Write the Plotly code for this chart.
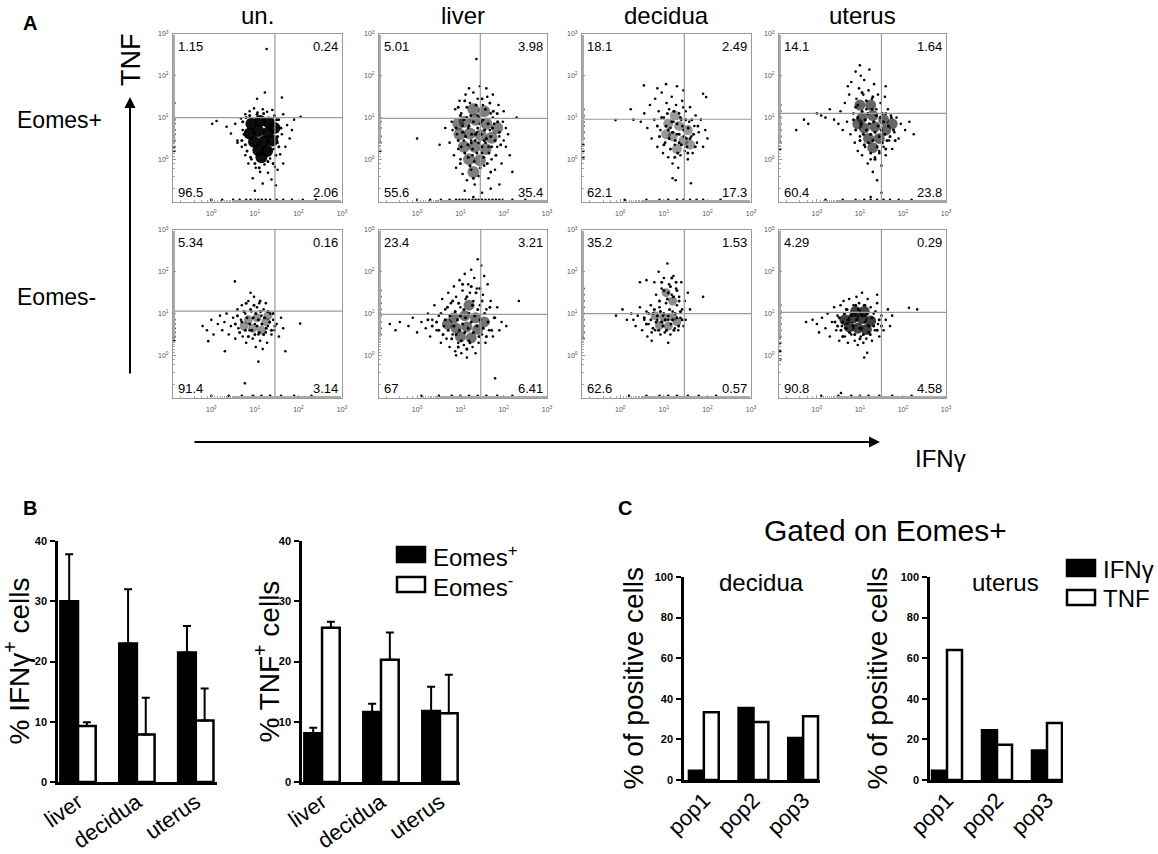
import plotly.graph_objects as go

W, H = 1158, 854
FONT = "Liberation Sans, Arial, Helvetica, sans-serif"

# ---------------- panel A: flow plots (log10 units) ----------------
COLUMNS = ["un.", "liver", "decidua", "uterus"]
ROWS = ["Eomes+", "Eomes-"]

# quadrant percentages: upper-left, upper-right, lower-left, lower-right
QUAD_PCT_POS = [[1.15, 0.24, 96.5, 2.06], [5.01, 3.98, 55.6, 35.4],
                [18.1, 2.49, 62.1, 17.3], [14.1, 1.64, 60.4, 23.8]]
QUAD_PCT_NEG = [[5.34, 0.16, 91.4, 3.14], [23.4, 3.21, 67, 6.41],
                [35.2, 1.53, 62.6, 0.57], [4.29, 0.29, 90.8, 4.58]]

# gate positions (log10 IFNg, log10 TNF)
GATE_X_POS = [1.46, 1.46, 1.47, 1.50]
GATE_Y_POS = [1.00, 0.98, 0.96, 1.10]
GATE_X_NEG = [1.46, 1.47, 1.47, 1.50]
GATE_Y_NEG = [1.06, 0.98, 1.00, 1.03]

# dense centre of each cloud (drawn as soft blobs)
UN_POS_CORE = [(0.92, 0.85), (1.12, 0.92), (1.32, 0.88), (0.88, 0.62), (1.08, 0.68), (1.3, 0.64),
               (1.45, 0.75), (0.98, 0.42), (1.2, 0.42), (1.4, 0.45), (1.08, 0.22), (1.28, 0.2), (1.15, 0.05)]
UN_POS_DENSE = [(0.72, 0.9), (0.75, 0.6), (0.78, 0.35), (0.8, 1.0), (0.82, 0.2), (1.5, 0.95), (1.52, 0.55),
                (1.55, 0.3), (1.48, 0.1), (0.9, 0.05), (1.0, -0.1), (1.3, -0.05), (1.2, 1.1), (1.45, 1.05),
                (0.88, 1.05), (1.05, 1.08), (1.42, -0.1), (1.1, -0.2), (0.7, 0.45), (1.6, 0.75)]
UN_POS_DOTS = [(-0.85, 1.35), (-0.85, 0.95), (-0.85, 0.85), (-0.85, 0.7), (-0.85, 0.6), (-0.85, 0.45),
               (-0.85, 0.3), (-0.85, 0.2), (0.02, 0.85), (0.12, 0.92), (0.35, 0.78), (0.45, 0.62),
               (0.55, 0.85), (0.6, 0.45), (0.68, 0.98), (0.7, 0.3), (0.72, 0.7), (0.78, 1.08), (0.78, 0.1),
               (0.8, 0.55), (0.85, -0.1), (0.88, 1.15), (0.92, 0.0), (0.98, 1.22), (1.02, -0.2), (1.06, 1.12),
               (1.12, -0.3), (1.18, 1.2), (1.22, -0.12), (1.28, 1.14), (1.3, -0.32), (1.35, 0.02), (1.4, 1.18),
               (1.43, 0.25), (1.46, -0.18), (1.5, 0.75), (1.52, 0.4), (1.55, 0.95), (1.58, 0.12), (1.62, 0.6),
               (1.65, 1.08), (1.7, 0.3), (1.74, 0.82), (1.8, 0.5), (1.9, 0.95), (2.05, 1.02), (1.05, 1.45),
               (1.23, 1.6), (1.62, 1.48), (1.27, 2.64), (0.95, -0.45), (1.18, -0.58), (1.38, -0.48),
               (1.48, -0.62), (1.52, -0.25), (1.0, -0.75), (1.65, -0.1), (0.6, 0.4), (1.85, 0.7),
               (0.0, -0.97), (0.25, -0.97), (0.5, -0.97), (0.65, -0.97), (0.8, -0.97), (0.9, -0.97),
               (1.0, -0.97), (1.08, -0.97), (1.16, -0.97), (1.25, -0.97), (1.35, -0.97), (1.5, -0.97),
               (1.65, -0.97), (1.85, -0.97), (2.1, -0.97), (2.4, -0.97)]

LIVER_POS_CORE = [(1.1, 0.9), (1.35, 0.95), (1.6, 0.85), (0.98, 0.6), (1.22, 0.62), (1.47, 0.58),
                  (1.72, 0.52), (1.08, 0.3), (1.33, 0.3), (1.58, 0.25), (1.2, 0.0), (1.45, -0.02),
                  (1.3, 1.2), (1.55, 1.15), (0.95, 0.85), (1.85, 0.75), (1.3, -0.3)]
LIVER_POS_DENSE = [(0.9, 0.75), (0.95, 0.45), (1.0, 1.05), (1.02, 0.3), (1.05, 0.65), (1.08, 0.95), (1.1, 0.15),
                   (1.12, 0.55), (1.15, 1.25), (1.17, 0.35), (1.2, 0.8), (1.22, -0.15), (1.24, 1.05), (1.26, 0.6),
                   (1.28, 0.25), (1.3, 0.9), (1.32, -0.05), (1.34, 0.45), (1.36, 1.3), (1.38, 0.15), (1.4, 0.75),
                   (1.42, 0.4), (1.44, 1.0), (1.46, -0.2), (1.48, 0.6), (1.5, 0.3), (1.52, 0.95), (1.54, 0.05),
                   (1.56, 0.7), (1.58, 1.2), (1.6, 0.5), (1.62, -0.1), (1.64, 0.85), (1.66, 0.15), (1.68, 1.35),
                   (1.7, 0.55), (1.72, 0.3), (1.74, 0.75), (1.76, 1.15), (1.8, 0.45), (1.82, 0.1), (1.86, 0.9),
                   (1.9, 0.65), (1.93, 0.35), (1.18, 0.05), (1.35, 0.6), (1.45, 0.85), (1.25, 0.4), (1.55, 0.45),
                   (1.1, 1.4), (1.3, -0.45), (1.5, 1.45), (1.0, -0.1), (1.7, -0.3), (0.95, 1.25), (1.85, 1.1)]
LIVER_POS_DOTS = [(0.75, 0.4), (0.8, 0.9), (0.85, 0.1), (0.88, 1.2), (0.9, -0.2), (0.92, 0.6), (0.98, 1.4),
                  (1.0, 0.0), (1.02, 1.1), (1.05, -0.35), (1.08, 0.45), (1.12, 1.55), (1.15, -0.5),
                  (1.18, 0.75), (1.22, 1.35), (1.25, -0.25), (1.28, 0.1), (1.3, 1.6), (1.33, -0.6),
                  (1.38, 0.65), (1.4, 1.45), (1.42, -0.4), (1.48, 0.9), (1.52, 1.3), (1.55, -0.15),
                  (1.58, 0.4), (1.62, 1.5), (1.65, -0.45), (1.68, 0.7), (1.7, 1.1), (1.72, 0.0), (1.78, 0.85),
                  (1.8, -0.25), (1.85, 0.3), (1.88, 1.3), (1.9, 0.55), (1.95, -0.1), (1.98, 0.9), (2.05, 0.3),
                  (2.1, 0.6), (2.14, 0.1), (2.0, 1.15), (1.75, 1.55), (1.45, 1.75), (1.6, 1.7), (1.2, 1.7),
                  (1.37, 2.4), (0.52, 0.35), (0.0, 0.5), (2.3, 1.0), (1.5, -0.8), (1.3, -0.9), (1.7, -0.7),
                  (1.1, -0.75), (1.9, -0.6), (2.2, -0.3), (0.82, 0.7), (0.95, 0.25), (1.15, 1.0), (1.65, 0.3),
                  (1.75, 1.0), (2.0, 0.45), (1.05, 0.8), (1.5, 0.15), (1.4, 1.05), (1.25, 0.45), (2.05, 0.75),
                  (0.65, 0.75), (-0.85, 0.9), (-0.85, 0.75), (-0.85, 0.55), (-0.85, 0.4), (-0.85, 0.2),
                  (0.0, -0.97), (0.3, -0.97), (0.55, -0.97), (0.75, -0.97), (0.9, -0.97), (0.98, -0.97),
                  (1.05, -0.97), (1.12, -0.97), (1.2, -0.97), (1.28, -0.97), (1.35, -0.97), (1.42, -0.97),
                  (1.5, -0.97), (1.58, -0.97), (1.66, -0.97), (1.74, -0.97), (1.82, -0.97), (1.9, -0.97),
                  (1.98, -0.97), (2.2, -0.97), (2.5, -0.97)]

DECIDUA_POS_CORE = [(1.1, 0.85), (1.35, 0.8), (1.55, 0.7), (1.2, 0.55), (1.45, 0.45), (1.3, 0.25),
                    (1.05, 0.6), (1.6, 0.35), (1.25, 1.05)]
DECIDUA_POS_DENSE = [(0.85, 0.8), (0.9, 0.55), (0.95, 1.0), (1.0, 0.35), (1.05, 0.8), (1.08, 1.1), (1.12, 0.5),
                     (1.15, 0.25), (1.18, 0.9), (1.2, 0.65), (1.23, 1.15), (1.26, 0.45), (1.3, 0.85), (1.32, 0.15),
                     (1.35, 0.6), (1.38, 1.0), (1.4, 0.35), (1.43, 0.8), (1.46, 0.55), (1.5, 0.95), (1.53, 0.3),
                     (1.56, 0.75), (1.6, 0.5), (1.64, 0.95), (1.68, 0.6), (1.72, 0.3), (1.78, 0.8), (1.25, 0.05),
                     (1.45, 1.25), (1.1, 0.7), (1.55, 0.15), (1.35, 0.4)]
DECIDUA_POS_DOTS = [(0.47, 0.9), (0.55, 1.1), (0.62, 0.75), (0.68, 1.3), (0.72, 0.5), (0.78, 0.95),
                    (0.8, 1.45), (0.85, 0.3), (0.88, 1.15), (0.92, 0.7), (0.95, 1.6), (0.98, 0.15), (1.0, 1.0),
                    (1.03, 0.4), (1.06, 1.35), (1.1, 0.05), (1.12, 1.2), (1.15, 0.75), (1.18, 1.5), (1.2, -0.1),
                    (1.22, 0.9), (1.25, 0.35), (1.28, 1.3), (1.3, 0.6), (1.33, -0.2), (1.35, 1.1), (1.38, 0.1),
                    (1.4, 0.95), (1.42, 1.4), (1.45, 0.7), (1.48, 0.2), (1.5, 1.15), (1.52, 0.5), (1.55, 0.0),
                    (1.58, 0.9), (1.6, 1.25), (1.63, 0.55), (1.66, 0.15), (1.7, 0.8), (1.73, 1.05), (1.76, 0.4),
                    (1.8, 0.65), (1.85, 0.95), (1.9, 0.3), (1.95, 0.7), (2.0, 0.5), (0.54, 1.77), (0.24, 1.2),
                    (-0.11, 0.94), (1.9, 1.57), (1.97, 1.49), (1.2, -0.45), (1.27, -0.5), (1.62, -0.57),
                    (0.3, 0.95), (0.85, 1.7), (1.05, 1.8), (1.45, 1.65), (1.3, 1.75),
                    (-0.85, 1.2), (-0.85, 1.05), (-0.85, 0.9), (-0.85, 0.8), (-0.85, 0.65), (-0.85, 0.5),
                    (-0.85, 0.35), (-0.85, 0.2), (-0.85, 0.05), (0.1, -0.97), (0.6, -0.97), (0.9, -0.97),
                    (1.1, -0.97), (1.3, -0.97), (1.45, -0.97), (1.6, -0.97), (1.75, -0.97), (1.9, -0.97),
                    (2.3, -0.97)]

UTERUS_POS_CORE = [(1.05, 1.0), (1.3, 1.05), (1.55, 0.95), (1.1, 0.75), (1.35, 0.78), (1.6, 0.7),
                   (1.2, 0.5), (1.45, 0.5), (1.3, 0.28), (0.95, 0.85), (1.75, 0.85), (1.0, 1.3), (1.25, 1.3)]
UTERUS_POS_DENSE = [(0.9, 0.7), (0.95, 1.0), (1.0, 0.45), (1.02, 0.85), (1.05, 1.15), (1.08, 0.6), (1.1, 0.35),
                    (1.12, 0.95), (1.15, 0.7), (1.18, 1.1), (1.2, 0.4), (1.22, 0.85), (1.25, 0.6), (1.28, 1.2),
                    (1.3, 0.45), (1.32, 0.9), (1.35, 0.65), (1.38, 1.05), (1.4, 0.3), (1.42, 0.8), (1.45, 0.55),
                    (1.48, 1.0), (1.5, 0.7), (1.52, 0.4), (1.55, 0.9), (1.58, 0.6), (1.6, 1.1), (1.63, 0.45),
                    (1.66, 0.8), (1.7, 0.55), (1.73, 1.0), (1.78, 0.7), (1.82, 0.45), (1.15, 1.4), (1.05, 1.6),
                    (1.3, 1.5), (0.95, 1.3), (1.25, 0.15), (1.45, 0.15), (1.6, 0.25), (1.35, 0.0), (0.85, 0.95)]
UTERUS_POS_DOTS = [(-0.48, 0.7), (-0.3, 0.95), (-0.2, 0.85), (0.0, 1.1), (0.1, 1.05), (0.2, 1.0), (0.3, 1.2),
                   (0.4, 0.95), (0.5, 0.85), (0.55, 1.15), (0.6, 0.7), (0.65, 1.35), (0.7, 0.9), (0.75, 1.55),
                   (0.78, 0.6), (0.8, 1.85), (0.85, 1.1), (0.88, 0.4), (0.9, 2.1), (0.92, 1.45), (0.95, 0.2),
                   (0.98, 1.7), (1.0, 0.55), (1.02, 2.0), (1.05, 0.1), (1.08, 1.55), (1.1, 1.9), (1.12, 0.3),
                   (1.15, 1.2), (1.18, -0.1), (1.2, 1.65), (1.22, 2.15), (1.25, 0.0), (1.28, 1.45), (1.3, -0.3),
                   (1.33, 1.8), (1.35, 0.05), (1.38, 1.2), (1.4, -0.5), (1.42, 1.55), (1.45, 0.2), (1.48, 1.35),
                   (1.5, -0.15), (1.52, 1.1), (1.55, 0.3), (1.58, 1.5), (1.6, 0.1), (1.65, 1.2), (1.68, 0.45),
                   (1.72, 1.05), (1.75, 0.25), (1.8, 0.65), (1.85, 1.0), (1.9, 0.5), (1.95, 0.85), (2.05, 0.7),
                   (2.15, 0.9), (2.25, 0.6), (1.25, -0.9), (1.5, -0.8), (0.72, 1.75), (1.0, 2.25), (0.9, 1.25),
                   (1.6, 1.75), (-0.85, 1.3), (-0.85, 1.15), (-0.85, 1.0), (-0.85, 0.85), (-0.85, 0.7),
                   (-0.85, 0.55), (-0.85, 0.4), (-0.85, 0.25), (0.2, -0.97), (0.6, -0.97), (0.9, -0.97),
                   (1.1, -0.97), (1.25, -0.97), (1.4, -0.97), (1.55, -0.97), (1.7, -0.97), (1.9, -0.97),
                   (2.2, -0.97)]

UN_NEG_CORE = [(0.85, 0.85), (1.05, 0.9), (1.25, 0.8), (0.95, 0.65), (1.15, 0.6), (1.3, 0.95), (0.75, 0.7)]
UN_NEG_DENSE = [(0.55, 0.75), (0.6, 0.95), (0.65, 0.55), (0.7, 0.8), (0.75, 1.05), (0.78, 0.6), (0.82, 0.9),
                (0.85, 0.45), (0.88, 0.75), (0.9, 1.1), (0.93, 0.6), (0.96, 0.9), (1.0, 0.5), (1.02, 1.0),
                (1.05, 0.7), (1.08, 0.85), (1.1, 0.55), (1.13, 1.05), (1.16, 0.75), (1.2, 0.5), (1.22, 0.9),
                (1.26, 0.65), (1.3, 1.05), (1.34, 0.8), (1.38, 0.6), (1.42, 1.0), (1.46, 0.7), (0.98, 1.2),
                (1.12, 1.3), (0.8, 1.25)]
UN_NEG_DOTS = [(-0.2, 0.7), (-0.1, 0.6), (0.0, 0.85), (0.05, 0.5), (0.15, 0.75), (0.2, 0.95), (0.25, 0.6),
               (0.3, 0.8), (0.35, 1.0), (0.4, 0.5), (0.45, 0.7), (0.5, 0.9), (0.55, 0.4), (0.6, 1.1),
               (0.62, 0.65), (0.68, 0.85), (0.7, 1.2), (0.72, 0.45), (0.78, 1.0), (0.8, 0.3), (0.85, 1.3),
               (0.88, 0.6), (0.92, 1.05), (0.95, 0.4), (0.98, 1.4), (1.0, 0.75), (1.02, 0.2), (1.05, 1.15),
               (1.08, 0.5), (1.1, 1.25), (1.12, 0.35), (1.15, 0.95), (1.18, 0.15), (1.2, 1.1), (1.25, 0.55),
               (1.28, 0.3), (1.3, 0.7), (1.35, 1.0), (1.38, 0.5), (1.42, 0.85), (1.45, 0.6), (1.5, 0.75),
               (1.55, 0.45), (1.6, 0.9), (1.65, 0.65), (1.7, 0.1), (2.04, 0.76), (0.54, 1.77), (-0.07, 0.34),
               (0.31, 0.1), (1.08, -0.15), (0.77, -0.67), (1.25, 1.25), (0.9, 1.5),
               (-0.85, 0.85), (-0.85, 0.75), (-0.85, 0.65), (-0.85, 0.55), (-0.85, 0.45), (-0.85, 0.35),
               (0.0, -0.97), (0.4, -0.97), (0.7, -0.97), (0.95, -0.97), (1.15, -0.97), (1.35, -0.97),
               (1.6, -0.97), (1.9, -0.97), (2.3, -0.97)]

LIVER_NEG_CORE = [(0.85, 0.9), (1.1, 0.95), (1.35, 0.9), (0.9, 0.65), (1.15, 0.68), (1.4, 0.62),
                  (1.0, 0.45), (1.25, 0.42), (0.7, 0.75), (1.55, 0.8), (1.2, 1.2)]
LIVER_NEG_DENSE = [(0.45, 0.8), (0.5, 0.6), (0.55, 1.0), (0.6, 0.5), (0.65, 0.85), (0.7, 1.15), (0.72, 0.6),
                   (0.76, 0.95), (0.8, 0.4), (0.82, 1.3), (0.85, 0.7), (0.88, 1.05), (0.9, 0.5), (0.93, 0.85),
                   (0.96, 1.25), (0.98, 0.6), (1.0, 0.95), (1.02, 0.35), (1.05, 0.75), (1.08, 1.1), (1.1, 0.55),
                   (1.12, 0.9), (1.15, 1.4), (1.18, 0.65), (1.2, 1.0), (1.22, 0.3), (1.25, 0.8), (1.28, 1.2),
                   (1.3, 0.55), (1.33, 0.95), (1.36, 1.5), (1.38, 0.7), (1.4, 1.1), (1.43, 0.45), (1.46, 0.85),
                   (1.5, 1.3), (1.53, 0.65), (1.56, 1.0), (1.6, 0.45), (1.64, 0.8), (1.68, 1.15), (1.72, 0.6),
                   (1.78, 0.9), (1.05, 1.7), (1.25, 1.65), (1.45, 1.6), (0.95, 0.2), (1.15, 0.15), (0.35, 0.7),
                   (0.25, 0.85)]
LIVER_NEG_DOTS = [(-0.63, 0.75), (-0.5, 0.6), (-0.4, 0.8), (-0.2, 0.7), (-0.1, 0.9), (0.0, 0.55), (0.1, 0.8),
                  (0.2, 0.65), (0.25, 1.0), (0.3, 0.45), (0.35, 0.85), (0.4, 1.2), (0.45, 0.6), (0.5, 0.95),
                  (0.55, 0.3), (0.58, 1.35), (0.62, 0.7), (0.65, 1.1), (0.68, 0.4), (0.72, 1.5), (0.75, 0.2),
                  (0.78, 1.25), (0.82, 0.5), (0.85, 1.65), (0.88, 0.1), (0.9, 1.4), (0.95, 0.3), (0.98, 1.8),
                  (1.0, 1.15), (1.02, 0.05), (1.05, 1.55), (1.08, 0.25), (1.1, 1.95), (1.12, 1.35), (1.15, 0.15),
                  (1.18, 1.7), (1.2, 0.35), (1.22, 1.5), (1.25, 2.05), (1.28, 0.2), (1.3, 1.3), (1.32, 1.85),
                  (1.35, 0.05), (1.38, 1.6), (1.4, 2.3), (1.42, 0.3), (1.45, 1.2), (1.48, 2.15), (1.5, 0.5),
                  (1.52, 1.45), (1.55, 1.9), (1.58, 0.3), (1.6, 1.1), (1.63, 1.7), (1.66, 0.6), (1.7, 1.3),
                  (1.75, 0.45), (1.8, 0.9), (1.85, 1.15), (1.9, 0.6), (1.95, 0.8), (2.06, 0.7), (2.35, 1.3),
                  (1.8, -0.55), (1.15, -0.05), (0.9, 0.0), (-0.85, 1.55), (-0.85, 1.4), (-0.85, 1.25),
                  (-0.85, 1.1), (-0.85, 0.95), (-0.85, 0.8), (-0.85, 0.65), (-0.85, 0.5),
                  (0.1, -0.97), (0.5, -0.97), (0.8, -0.97), (1.0, -0.97), (1.2, -0.97), (1.4, -0.97),
                  (1.6, -0.97), (1.85, -0.97), (2.2, -0.97)]

DECIDUA_NEG_CORE = [(0.8, 0.95), (1.0, 0.9), (1.2, 0.92), (0.9, 0.72), (1.1, 0.7), (1.3, 0.8),
                    (1.05, 1.5), (1.2, 1.3)]
DECIDUA_NEG_DENSE = [(0.55, 0.9), (0.6, 0.75), (0.65, 1.0), (0.7, 0.85), (0.75, 0.65), (0.78, 1.1), (0.82, 0.8),
                     (0.85, 0.95), (0.88, 0.6), (0.92, 1.05), (0.95, 0.8), (0.98, 0.7), (1.0, 1.0), (1.03, 0.85),
                     (1.06, 0.6), (1.1, 0.95), (1.13, 1.1), (1.16, 0.75), (1.2, 0.85), (1.23, 0.6), (1.26, 1.0),
                     (1.3, 0.9), (1.34, 0.7), (1.38, 1.05), (1.42, 0.85), (0.9, 1.3), (1.0, 1.55), (1.08, 1.35),
                     (1.15, 1.65), (1.22, 1.4), (1.3, 1.55), (1.35, 1.3), (0.95, 1.75), (1.18, 1.85), (1.1, 1.5),
                     (1.28, 1.75)]
DECIDUA_NEG_DOTS = [(-0.1, 0.95), (0.05, 1.1), (0.15, 0.85), (0.25, 1.0), (0.35, 0.7), (0.4, 0.95),
                    (0.45, 1.15), (0.5, 0.6), (0.55, 0.85), (0.6, 1.05), (0.62, 0.45), (0.65, 0.75), (0.7, 1.2),
                    (0.72, 0.55), (0.75, 1.0), (0.78, 1.75), (0.8, 0.6), (0.82, 1.45), (0.85, 0.85), (0.88, 2.0),
                    (0.9, 1.15), (0.92, 0.5), (0.95, 1.6), (0.98, 0.95), (1.0, 1.85), (1.02, 0.55), (1.05, 1.25),
                    (1.08, 2.2), (1.1, 0.85), (1.12, 1.7), (1.15, 0.5), (1.18, 1.45), (1.2, 1.05), (1.22, 1.9),
                    (1.25, 0.65), (1.28, 1.6), (1.3, 1.2), (1.33, 0.6), (1.35, 1.4), (1.38, 0.9), (1.4, 1.75),
                    (1.42, 1.1), (1.45, 0.7), (1.48, 1.3), (1.5, 0.85), (1.55, 1.5), (1.6, 1.1), (1.9, 1.4),
                    (0.45, 1.75), (0.6, 1.8), (0.72, 0.35), (1.1, 0.3), (0.3, 0.85),
                    (-0.85, 1.6), (-0.85, 1.45), (-0.85, 1.3), (-0.85, 1.15), (-0.85, 1.0), (-0.85, 0.85),
                    (-0.85, 0.7), (-0.85, 0.55), (-0.85, 0.4), (0.2, -0.97), (0.6, -0.97), (0.9, -0.97),
                    (1.1, -0.97), (1.3, -0.97), (1.55, -0.97), (1.8, -0.97), (2.2, -0.97)]

UTERUS_NEG_CORE = [(0.65, 0.85), (0.85, 0.9), (1.05, 0.88), (1.25, 0.82), (0.75, 0.68), (0.95, 0.65),
                   (1.15, 0.62), (0.9, 1.05), (1.1, 1.05)]
UTERUS_NEG_DENSE = [(0.42, 0.8), (0.48, 0.7), (0.52, 0.9), (0.56, 0.6), (0.6, 0.8), (0.64, 1.0), (0.68, 0.65),
                    (0.72, 0.85), (0.76, 0.55), (0.8, 0.95), (0.84, 0.7), (0.88, 0.5), (0.92, 0.85), (0.96, 1.1),
                    (1.0, 0.65), (1.04, 0.95), (1.08, 0.5), (1.12, 0.8), (1.16, 1.0), (1.2, 0.7), (1.24, 0.5),
                    (1.28, 0.9), (1.32, 0.7), (1.36, 1.05), (1.4, 0.6), (1.45, 0.85), (1.5, 0.7), (0.7, 1.1),
                    (0.9, 1.2), (1.1, 1.2), (0.6, 0.45), (1.0, 0.4)]
UTERUS_NEG_DOTS = [(-0.25, 0.8), (-0.1, 0.85), (0.0, 0.75), (0.05, 0.55), (0.12, 0.9), (0.2, 0.65),
                   (0.25, 1.0), (0.3, 0.45), (0.35, 0.8), (0.4, 1.15), (0.45, 0.6), (0.48, 0.95), (0.52, 0.35),
                   (0.55, 1.2), (0.58, 0.7), (0.62, 1.3), (0.65, 0.45), (0.68, 1.1), (0.72, 0.3), (0.75, 1.35),
                   (0.8, 0.5), (0.85, 1.2), (0.88, 0.35), (0.92, 1.4), (0.95, 0.25), (0.98, 1.25), (1.02, 0.45),
                   (1.05, 1.5), (1.08, 0.3), (1.12, 1.2), (1.15, 0.4), (1.18, 1.35), (1.2, 0.55), (1.25, 1.15),
                   (1.28, 0.35), (1.32, 1.0), (1.35, 0.6), (1.4, 1.25), (1.42, 0.75), (1.45, 0.45), (1.5, 0.95),
                   (1.55, 0.6), (1.6, 0.85), (1.65, 1.1), (1.7, 0.7), (1.75, 0.95), (2.14, 1.14), (2.33, 1.1),
                   (1.17, 0.06), (1.1, -0.05), (0.56, -0.9), (1.4, 1.45),
                   (-0.85, 1.2), (-0.85, 1.05), (-0.85, 0.9), (-0.85, 0.75), (-0.85, 0.6), (-0.85, 0.45),
                   (-0.85, 0.3), (-0.85, 0.1), (-0.85, -0.1), (0.1, -0.97), (0.5, -0.97), (0.8, -0.97),
                   (1.0, -0.97), (1.2, -0.97), (1.45, -0.97), (1.75, -0.97), (2.2, -0.97)]

CORES = [[UN_POS_CORE, LIVER_POS_CORE, DECIDUA_POS_CORE, UTERUS_POS_CORE],
         [UN_NEG_CORE, LIVER_NEG_CORE, DECIDUA_NEG_CORE, UTERUS_NEG_CORE]]
DENSE = [[UN_POS_DENSE, LIVER_POS_DENSE, DECIDUA_POS_DENSE, UTERUS_POS_DENSE],
         [UN_NEG_DENSE, LIVER_NEG_DENSE, DECIDUA_NEG_DENSE, UTERUS_NEG_DENSE]]
DOTS = [[UN_POS_DOTS, LIVER_POS_DOTS, DECIDUA_POS_DOTS, UTERUS_POS_DOTS],
        [UN_NEG_DOTS, LIVER_NEG_DOTS, DECIDUA_NEG_DOTS, UTERUS_NEG_DOTS]]
QUAD_PCT = [QUAD_PCT_POS, QUAD_PCT_NEG]
GATE_X = [GATE_X_POS, GATE_X_NEG]
GATE_Y = [GATE_Y_POS, GATE_Y_NEG]

# ---------------- panel B ----------------
B_SITES = ["liver", "decidua", "uterus"]
IFNG_EOMES_POS = [30.0, 23.0, 21.5]
IFNG_EOMES_POS_ERR = [7.8, 9.0, 4.4]
IFNG_EOMES_NEG = [9.3, 7.9, 10.2]
IFNG_EOMES_NEG_ERR = [0.6, 6.1, 5.3]
TNF_EOMES_POS = [8.1, 11.6, 11.8]
TNF_EOMES_POS_ERR = [0.9, 1.4, 4.0]
TNF_EOMES_NEG = [25.6, 20.3, 11.4]
TNF_EOMES_NEG_ERR = [1.0, 4.5, 6.4]

# ---------------- panel C ----------------
POPS = ["pop1", "pop2", "pop3"]
DECIDUA_IFNG = [4.5, 35.5, 20.7]
DECIDUA_TNF = [33.4, 28.6, 31.4]
UTERUS_IFNG = [4.5, 24.5, 14.5]
UTERUS_TNF = [64.1, 17.4, 28.1]

# ---------------- layout helpers (pixel positions) ----------------
BOX_X = [(173, 342), (379, 547), (582, 751), (779, 946)]
BOX_Y = [(34, 202), (230, 398)]
CORE_OPACITY = [[0.95, 0.5, 0.4, 0.6], [0.42, 0.55, 0.45, 0.75]]
CORE_SIZE = [[12, 12, 10, 11], [9, 11, 9, 11]]
GRAY = "#9a9a9a"


def dom_x(a, b):
    return [a / W, b / W]


def dom_y(top, bottom):
    return [1 - bottom / H, 1 - top / H]


def label(text, x, y, size, xanchor="center", yanchor="middle", **kw):
    """Free text placed by pixel position on the page."""
    return dict(text=text, x=x / W, y=1 - y / H, xref="paper", yref="paper", showarrow=False,
                xanchor=xanchor, yanchor=yanchor, font=dict(size=size), **kw)


fig = go.Figure()
layout = dict(
    width=W, height=H, margin=dict(l=0, r=0, t=0, b=0, autoexpand=False),
    paper_bgcolor="white", plot_bgcolor="white", showlegend=False,
    font=dict(family=FONT, color="black"),
)
annotations = []
shapes = []

LOG_TICKS = [1, 10, 100, 1000]
LOG_TEXT = ["10<sup>0</sup>", "10<sup>1</sup>", "10<sup>2</sup>", "10<sup>3</sup>"]
XR = [-0.88, 3.0]
YR = [-1.02, 3.0]

n = 0
for r in range(2):
    for c in range(4):
        n += 1
        suffix = "" if n == 1 else str(n)
        xa, ya = "x" + suffix, "y" + suffix
        common = dict(type="log", tickvals=LOG_TICKS, ticktext=LOG_TEXT,
                      tickfont=dict(size=7, color="#555"), showline=True, mirror=True,
                      linecolor=GRAY, linewidth=1, showgrid=False, zeroline=False,
                      ticks="inside", ticklen=3, tickcolor=GRAY, tickwidth=0.8,
                      minor=dict(ticks="inside", ticklen=2, tickcolor="#aaa", tickwidth=0.6))
        layout["xaxis" + suffix] = dict(common, domain=dom_x(*BOX_X[c]), range=XR, anchor=ya,
                                        ticklabelstandoff=5)
        layout["yaxis" + suffix] = dict(common, domain=dom_y(*BOX_Y[r]), range=YR, anchor=xa,
                                        ticklabelstandoff=2)

        core = CORES[r][c]
        fig.add_trace(go.Scatter(
            x=[10 ** p[0] for p in core], y=[10 ** p[1] for p in core], mode="markers",
            marker=dict(size=CORE_SIZE[r][c], color="black", opacity=CORE_OPACITY[r][c], line=dict(width=0)),
            xaxis=xa, yaxis=ya, hoverinfo="skip"))
        for pts, size in [(DENSE[r][c], 3.0), (DOTS[r][c], 2.6)]:
            fig.add_trace(go.Scatter(
                x=[10 ** p[0] for p in pts], y=[10 ** p[1] for p in pts], mode="markers",
                marker=dict(size=size, color="black", line=dict(width=0)), xaxis=xa, yaxis=ya,
                hoverinfo="skip"))

        gx, gy = 10 ** GATE_X[r][c], 10 ** GATE_Y[r][c]
        fig.add_trace(go.Scatter(x=[gx, gx], y=[10 ** YR[0], 10 ** YR[1]], mode="lines",
                                 line=dict(color=GRAY, width=1.2), xaxis=xa, yaxis=ya, hoverinfo="skip"))
        fig.add_trace(go.Scatter(x=[10 ** XR[0], 10 ** XR[1]], y=[gy, gy], mode="lines",
                                 line=dict(color=GRAY, width=1.2), xaxis=xa, yaxis=ya, hoverinfo="skip"))

        pct = QUAD_PCT[r][c]
        corners = [(0.02, 0.985, "left", "top"), (0.99, 0.985, "right", "top"),
                   (0.02, 0.0, "left", "bottom"), (0.99, 0.0, "right", "bottom")]
        for v, (ax_, ay_, xan, yan) in zip(pct, corners):
            annotations.append(dict(text=f"{v:g}", xref=xa + " domain", yref=ya + " domain",
                                    x=ax_, y=ay_, xanchor=xan, yanchor=yan, showarrow=False,
                                    font=dict(size=13, color="black")))

# column and row labels
COL_CX = [257, 463, 666, 862]
for name, cx in zip(COLUMNS, COL_CX):
    annotations.append(label(name, cx, 15, 24))
for name, cy in zip(ROWS, [120, 297]):
    annotations.append(label(name, 15, cy, 23, xanchor="left"))

annotations.append(label("TNF", 131, 60, 27, textangle=-90))
annotations.append(label("IFNγ", 913, 458, 24, xanchor="left"))
# axis arrows
annotations.append(dict(text="", x=130 / W, y=1 - 97 / H, xref="paper", yref="paper", ax=0, ay=278,
                        showarrow=True, arrowhead=2, arrowsize=1.1, arrowwidth=2, arrowcolor="black"))
annotations.append(dict(text="", x=880 / W, y=1 - 442 / H, xref="paper", yref="paper", ax=-687, ay=0,
                        showarrow=True, arrowhead=2, arrowsize=1.1, arrowwidth=2, arrowcolor="black"))

# panel letters
for letter, (lx, ly) in zip("ABC", [(30, 23), (30, 508), (625, 508)]):
    annotations.append(label(f"<b>{letter}</b>", lx, ly, 20))

# ---------------- bar charts ----------------
BAR_PANELS = [
    dict(cats=B_SITES, a=IFNG_EOMES_POS, a_err=IFNG_EOMES_POS_ERR, b=IFNG_EOMES_NEG, b_err=IFNG_EOMES_NEG_ERR,
         xpx=(58, 217), ypx=(541, 782), xr=[-0.34, 2.36], yr=[0, 40], dt=10, angle=-35,
         title="% IFNγ<sup>+</sup> cells", tx=17),
    dict(cats=B_SITES, a=TNF_EOMES_POS, a_err=TNF_EOMES_POS_ERR, b=TNF_EOMES_NEG, b_err=TNF_EOMES_NEG_ERR,
         xpx=(302, 460), ypx=(541, 782), xr=[-0.34, 2.34], yr=[0, 40], dt=10, angle=-35,
         title="% TNF<sup>+</sup> cells", tx=267),
    dict(cats=POPS, a=DECIDUA_IFNG, a_err=None, b=DECIDUA_TNF, b_err=None,
         xpx=(684, 820), ypx=(577, 780), xr=[-0.40, 2.34], yr=[0, 100], dt=20, angle=-45,
         title="% of positive cells", tx=633),
    dict(cats=POPS, a=UTERUS_IFNG, a_err=None, b=UTERUS_TNF, b_err=None,
         xpx=(930, 1063), ypx=(577, 780), xr=[-0.34, 2.32], yr=[0, 100], dt=20, angle=-45,
         title="% of positive cells", tx=877),
]

for i, p in enumerate(BAR_PANELS):
    n += 1
    suffix = str(n)
    xa, ya = "x" + suffix, "y" + suffix
    layout["xaxis" + suffix] = dict(
        domain=dom_x(*p["xpx"]), range=p["xr"], type="category", anchor=ya,
        showline=True, linecolor="black", linewidth=2.5, ticks="", showgrid=False, zeroline=False,
        tickangle=p["angle"], tickfont=dict(size=22), ticklabelstandoff=-4)
    layout["yaxis" + suffix] = dict(
        domain=dom_y(*p["ypx"]), range=p["yr"], anchor=xa, dtick=p["dt"], tick0=0,
        showline=True, linecolor="black", linewidth=2.5, ticks="outside", ticklen=5, tickwidth=2,
        tickcolor="black", showgrid=False, zeroline=False, ticklabelstandoff=1,
        tickfont=dict(size=11, weight="bold"))
    for vals, err, fill in [(p["a"], p["a_err"], "black"), (p["b"], p["b_err"], "white")]:
        ey = None
        if err is not None:
            ey = dict(type="data", array=err, arrayminus=[0] * len(err), symmetric=False,
                      color="black", thickness=2, width=4)
        fig.add_trace(go.Bar(
            x=p["cats"], y=vals, error_y=ey, xaxis=xa, yaxis=ya, offsetgroup=fill,
            marker=dict(color=fill, line=dict(color="black", width=2.5)), hoverinfo="skip"))
    annotations.append(label(p["title"], p["tx"], (p["ypx"][0] + p["ypx"][1]) / 2, 28, textangle=-90))

layout["barmode"] = "group"
layout["bargap"] = 0.40
layout["bargroupgap"] = 0.0

# sub titles of panel C
annotations.append(label("Gated on Eomes+", 885, 530, 30))
annotations.append(label("decidua", 761, 582, 24))
annotations.append(label("uterus", 1005, 582, 24))

# legends (drawn by hand, GraphPad style)
LEGENDS = [
    [("Eomes<sup>+</sup>", "black", (397, 425, 547, 562)), ("Eomes<sup>-</sup>", "white", (397, 425, 577, 592))],
    [("IFNγ", "black", (1067, 1095, 560, 576)), ("TNF", "white", (1067, 1095, 590, 605))],
]
for entries in LEGENDS:
    for text, fill, (x0, x1, y0, y1) in entries:
        shapes.append(dict(type="rect", xref="paper", yref="paper", x0=x0 / W, x1=x1 / W,
                           y0=1 - y1 / H, y1=1 - y0 / H, fillcolor=fill,
                           line=dict(color="black", width=2.5)))
        annotations.append(label(text, x1 + 6, (y0 + y1) / 2 + 1, 24, xanchor="left"))

layout["annotations"] = annotations
layout["shapes"] = shapes
fig.update_layout(**layout)

fig.write_html("out.html", config={"displayModeBar": False},
               post_script="document.body.style.margin='0';document.body.style.overflow='hidden';")
